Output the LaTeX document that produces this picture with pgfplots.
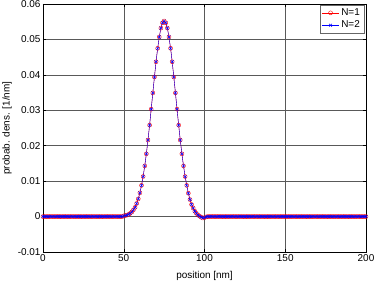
\documentclass[border=0pt]{standalone}
\usepackage{fontspec}
\setmainfont{Liberation Sans}
\usepackage{pgfplots}
\pgfplotsset{compat=1.18}
\usepackage{pgfplotstable}
\pgfplotstableread[row sep=\\]{
x y\\
0 0\\ 1 0\\ 2 0\\ 3 0\\ 4 0\\ 5 0\\ 6 0\\ 7 0\\ 8 0\\ 9 0\\
10 0\\ 11 0\\ 12 0\\ 13 0\\ 14 0\\ 15 0\\ 16 0\\ 17 0\\ 18 0\\ 19 0\\
20 0\\ 21 0\\ 22 0\\ 23 0\\ 24 0\\ 25 0\\ 26 0\\ 27 0\\ 28 0\\ 29 0\\
30 0\\ 31 0\\ 32 0\\ 33 0\\ 34 0\\ 35 0\\ 36 0\\ 37 0\\ 38 0\\ 39 0\\
40 0\\ 41 0\\ 42 0\\ 43 0\\ 44 0\\ 45 0\\ 46 0\\ 47 0\\ 48 0\\ 49 0\\
50 0.0002\\ 51 0.0003\\ 52 0.0004\\ 53 0.0006\\ 54 0.0009\\
55 0.0013\\ 56 0.0019\\ 57 0.0026\\ 58 0.0037\\ 59 0.0050\\
60 0.0067\\ 61 0.0088\\ 62 0.0113\\ 63 0.0143\\ 64 0.0177\\
65 0.0216\\ 66 0.0258\\ 67 0.0303\\ 68 0.0349\\ 69 0.0394\\
70 0.0437\\ 71 0.0475\\ 72 0.0507\\ 73 0.0532\\ 74 0.0547\\
75 0.0552\\ 76 0.0547\\ 77 0.0532\\ 78 0.0507\\ 79 0.0475\\
80 0.0437\\ 81 0.0394\\ 82 0.0349\\ 83 0.0303\\ 84 0.0258\\
85 0.0216\\ 86 0.0177\\ 87 0.0143\\ 88 0.0113\\ 89 0.0088\\
90 0.0066\\ 91 0.0048\\ 92 0.0034\\ 93 0.0024\\ 94 0.0015\\
95 0.0009\\ 96 0.0004\\ 97 0.0001\\ 98 -0.0002\\ 99 -0.0004\\
100 -0.0003\\ 101 -0.0001\\ 102 0\\ 103 0\\ 104 0\\ 105 0\\ 106 0\\ 107 0\\ 108 0\\ 109 0\\
110 0\\ 111 0\\ 112 0\\ 113 0\\ 114 0\\ 115 0\\ 116 0\\ 117 0\\ 118 0\\ 119 0\\
120 0\\ 121 0\\ 122 0\\ 123 0\\ 124 0\\ 125 0\\ 126 0\\ 127 0\\ 128 0\\ 129 0\\
130 0\\ 131 0\\ 132 0\\ 133 0\\ 134 0\\ 135 0\\ 136 0\\ 137 0\\ 138 0\\ 139 0\\
140 0\\ 141 0\\ 142 0\\ 143 0\\ 144 0\\ 145 0\\ 146 0\\ 147 0\\ 148 0\\ 149 0\\
150 0\\ 151 0\\ 152 0\\ 153 0\\ 154 0\\ 155 0\\ 156 0\\ 157 0\\ 158 0\\ 159 0\\
160 0\\ 161 0\\ 162 0\\ 163 0\\ 164 0\\ 165 0\\ 166 0\\ 167 0\\ 168 0\\ 169 0\\
170 0\\ 171 0\\ 172 0\\ 173 0\\ 174 0\\ 175 0\\ 176 0\\ 177 0\\ 178 0\\ 179 0\\
180 0\\ 181 0\\ 182 0\\ 183 0\\ 184 0\\ 185 0\\ 186 0\\ 187 0\\ 188 0\\ 189 0\\
190 0\\ 191 0\\ 192 0\\ 193 0\\ 194 0\\ 195 0\\ 196 0\\ 197 0\\ 198 0\\ 199 0\\
200 0\\
}\dataA
\pgfplotstableread[row sep=\\]{
x y\\
0 0\\ 1 0\\ 2 0\\ 3 0\\ 4 0\\ 5 0\\ 6 0\\ 7 0\\ 8 0\\ 9 0\\
10 0\\ 11 0\\ 12 0\\ 13 0\\ 14 0\\ 15 0\\ 16 0\\ 17 0\\ 18 0\\ 19 0\\
20 0\\ 21 0\\ 22 0\\ 23 0\\ 24 0\\ 25 0\\ 26 0\\ 27 0\\ 28 0\\ 29 0\\
30 0\\ 31 0\\ 32 0\\ 33 0\\ 34 0\\ 35 0\\ 36 0\\ 37 0\\ 38 0\\ 39 0\\
40 0\\ 41 0\\ 42 0\\ 43 0\\ 44 0\\ 45 0\\ 46 0\\ 47 0\\ 48 0\\ 49 0\\
50 0.0002\\ 51 0.0003\\ 52 0.0004\\ 53 0.0006\\ 54 0.0009\\
55 0.0013\\ 56 0.0019\\ 57 0.0026\\ 58 0.0037\\ 59 0.0050\\
60 0.0067\\ 61 0.0088\\ 62 0.0113\\ 63 0.0143\\ 64 0.0177\\
65 0.0216\\ 66 0.0258\\ 67 0.0303\\ 68 0.0349\\ 69 0.0394\\
70 0.0437\\ 71 0.0475\\ 72 0.0507\\ 73 0.0532\\ 74 0.0547\\
75 0.0552\\ 76 0.0547\\ 77 0.0532\\ 78 0.0507\\ 79 0.0475\\
80 0.0437\\ 81 0.0394\\ 82 0.0349\\ 83 0.0303\\ 84 0.0258\\
85 0.0216\\ 86 0.0177\\ 87 0.0143\\ 88 0.0113\\ 89 0.0088\\
90 0.0066\\ 91 0.0048\\ 92 0.0034\\ 93 0.0024\\ 94 0.0015\\
95 0.0009\\ 96 0.0004\\ 97 0.0001\\ 98 -0.0002\\ 99 -0.0004\\
100 -0.0003\\ 101 -0.0001\\ 102 0\\ 103 0\\ 104 0\\ 105 0\\ 106 0\\ 107 0\\ 108 0\\ 109 0\\
110 0\\ 111 0\\ 112 0\\ 113 0\\ 114 0\\ 115 0\\ 116 0\\ 117 0\\ 118 0\\ 119 0\\
120 0\\ 121 0\\ 122 0\\ 123 0\\ 124 0\\ 125 0\\ 126 0\\ 127 0\\ 128 0\\ 129 0\\
130 0\\ 131 0\\ 132 0\\ 133 0\\ 134 0\\ 135 0\\ 136 0\\ 137 0\\ 138 0\\ 139 0\\
140 0\\ 141 0\\ 142 0\\ 143 0\\ 144 0\\ 145 0\\ 146 0\\ 147 0\\ 148 0\\ 149 0\\
150 0\\ 151 0\\ 152 0\\ 153 0\\ 154 0\\ 155 0\\ 156 0\\ 157 0\\ 158 0\\ 159 0\\
160 0\\ 161 0\\ 162 0\\ 163 0\\ 164 0\\ 165 0\\ 166 0\\ 167 0\\ 168 0\\ 169 0\\
170 0\\ 171 0\\ 172 0\\ 173 0\\ 174 0\\ 175 0\\ 176 0\\ 177 0\\ 178 0\\ 179 0\\
180 0\\ 181 0\\ 182 0\\ 183 0\\ 184 0\\ 185 0\\ 186 0\\ 187 0\\ 188 0\\ 189 0\\
190 0\\ 191 0\\ 192 0\\ 193 0\\ 194 0\\ 195 0\\ 196 0\\ 197 0\\ 198 0\\ 199 0\\
200 0\\
}\dataB
\begin{document}
\begin{tikzpicture}
\begin{axis}[
  name=ax, at={(0,0)}, anchor=south west,
  scale only axis, width=323bp, height=248bp,
  xmin=0, xmax=200, ymin=-0.01, ymax=0.06,
  xtick={0,50,100,150,200},
  ytick={-0.01,0,0.01,0.02,0.03,0.04,0.05,0.06},
  yticklabel style={/pgf/number format/fixed, /pgf/number format/precision=2, xshift=1bp},
  xticklabel style={yshift=1bp},
  /pgf/number format/assume math mode=true,
  scaled y ticks=false,
  tick align=inside, major tick length=3bp,
  grid=major, major grid style={black!65, line width=0.5pt},
  axis line style={black, line width=0.5pt},
  tick style={black, line width=0.5pt},
  font=\fontsize{10}{12}\selectfont,
  ticklabel style={font=\fontsize{10}{12}\selectfont},
  xlabel={position [nm]}, ylabel={probab. dens. [1/nm]},
  every axis x label/.style={at={(axis description cs:0.5,-0.105)}, anchor=base},
  every axis y label/.style={at={(axis description cs:-0.111,0.5)}, rotate=90, anchor=center},
  legend style={at={(0.9938,0.996)}, anchor=north east, draw=black!60, font=\fontsize{10}{12}\selectfont, inner xsep=2pt, inner ysep=1.5pt, row sep=0pt, legend cell align=left},
  legend image code/.code={
    \draw[mark repeat=2,mark phase=2] plot coordinates {(0cm,0cm) (0.3cm,0cm) (0.6cm,0cm)};
  },
]
\addplot[red, line width=0.4pt, mark=o, mark size=2bp, mark options={solid, line width=0.4pt}] table[x=x,y=y] {\dataA};
\addlegendentry{N=1}
\addplot[blue, line width=0.4pt, mark=x, mark size=2bp, mark options={solid, line width=0.5pt}] table[x=x,y=y] {\dataB};
\addlegendentry{N=2}
\end{axis}
\pgfresetboundingbox
\path (ax.south west) ++(-43bp,-31bp) rectangle ([xshift=8bp,yshift=4bp]ax.north east);
\end{tikzpicture}
\end{document}
